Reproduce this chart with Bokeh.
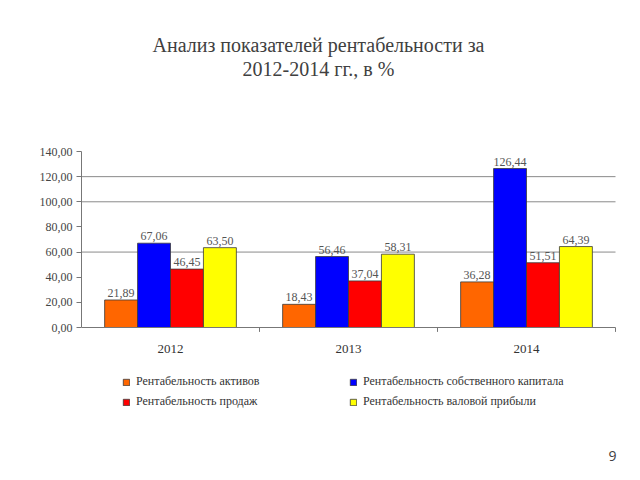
from bokeh.plotting import figure
from bokeh.models import (ColumnDataSource, Range1d, LabelSet, Label, Legend, LegendItem,
                          FixedTicker, CustomJSTickFormatter)
from bokeh.embed import file_html
from bokeh.resources import INLINE
from bokeh.core.properties import value

years = ["2012", "2013", "2014"]
assets = [21.89, 18.43, 36.28]
equity = [67.06, 56.46, 126.44]
sales = [46.45, 37.04, 51.51]
gross = [63.50, 58.31, 64.39]
series_names = ["Рентабельность активов", "Рентабельность собственного капитала",
                "Рентабельность продаж", "Рентабельность валовой прибыли"]
y_ticks = [0, 20, 40, 60, 80, 100, 120, 140]
grid_values = [60, 100, 120]
title_lines = ["Анализ показателей рентабельности за", "2012-2014 гг., в %"]
page_number = "9"

colors = ["#FF6600", "#0000FF", "#FF0000", "#FFFF00"]
offsets = [-0.2775, -0.0925, 0.0925, 0.2775]
serif = "Liberation Serif"

# layout geometry (pixels)
W, H = 624, 464
left = 81
px_per_unit_y = 176 / 140.0
y0_px_from_bottom = H - 327   # value 0 sits at y=327 from the top
top_px = 151                  # value 140 sits at y=151 from the top
cat_px = 178.0

def fmt(v):
    return f"{v:.2f}".replace(".", ",")

n = len(years)
centers = [i + 0.5 for i in range(n)]

src = ColumnDataSource(dict(year=years, xc=centers, zero=[0] * n))

y_start = -y0_px_from_bottom / px_per_unit_y
y_end = 140 + top_px / px_per_unit_y
x_end = n + (W - left - n * cat_px) / cat_px

p = figure(width=W, height=H, output_backend="svg", toolbar_location=None,
           x_range=Range1d(0, x_end), y_range=Range1d(y_start, y_end),
           x_axis_location=None,
           min_border_left=left, min_border_right=0, min_border_top=0, min_border_bottom=0)
p.outline_line_color = None
p.grid.visible = False

# horizontal grid lines (only where the reference shows them)
p.segment(x0=[0] * len(grid_values), x1=[n] * len(grid_values), y0=grid_values, y1=grid_values,
          line_color="#8a8a8a", line_width=1)

renderers = []
for vals, off, c in zip([assets, equity, sales, gross], offsets, colors):
    s = ColumnDataSource(dict(x=[x + off for x in centers], top=vals, t=[fmt(v) for v in vals]))
    r = p.vbar(x="x", top="top", width=0.185, source=s,
               fill_color=c, line_color="#3a3a3a", line_width=0.8)
    renderers.append(r)
    p.add_layout(LabelSet(x="x", y="top", text="t", source=s,
                          text_align="center", text_baseline="bottom", y_offset=3,
                          text_font=value(serif), text_font_size="12px", text_color="#555555"))

# category axis line, boundary ticks and labels
p.segment(x0=[0], x1=[n], y0=[0], y1=[0], line_color="#777777", line_width=1)
bounds = [i + 1 for i in range(n)]
p.segment(x0=bounds, x1=bounds, y0=[0] * n, y1=[-3.5] * n, line_color="#777777", line_width=1)
p.add_layout(LabelSet(x="xc", y="zero", text="year", source=src, text_align="center",
                      text_baseline="top", y_offset=-17, text_font=value(serif),
                      text_font_size="13px", text_color="#333333"))

p.yaxis.bounds = (0, 140)
p.yaxis.ticker = FixedTicker(ticks=y_ticks)
p.yaxis.formatter = CustomJSTickFormatter(code="return tick.toFixed(2).replace('.', ',');")
p.yaxis.major_tick_in = 0
p.yaxis.major_tick_out = 5
p.yaxis.minor_tick_line_color = None
p.yaxis.axis_line_color = "#777777"
p.yaxis.major_tick_line_color = "#777777"
p.yaxis.major_label_text_font = serif
p.yaxis.major_label_text_font_size = "12px"
p.yaxis.major_label_text_color = "#444444"
p.yaxis.major_label_standoff = 4

items = [LegendItem(label=nm, renderers=[r]) for nm, r in zip(series_names, renderers)]
legend = Legend(items=items, ncols=2, location=(41, H - 409), orientation="horizontal",
                glyph_width=8, glyph_height=8, label_standoff=6, label_width=208,
                spacing=5, label_height=12, padding=0, margin=0,
                label_text_font=serif, label_text_font_size="12px", label_text_color="#333333",
                border_line_color=None, background_fill_alpha=0)
p.add_layout(legend)

# title lines and page number (screen units, relative to the frame's bottom-left)
p.add_layout(Label(x=237, y=H - 44, x_units="screen", y_units="screen", text=title_lines[0],
                   text_align="center", text_baseline="middle", text_font=serif,
                   text_font_size="20px", text_color="#404040"))
p.add_layout(Label(x=237, y=H - 68, x_units="screen", y_units="screen", text=title_lines[1],
                   text_align="center", text_baseline="middle", text_font=serif,
                   text_font_size="20px", text_color="#404040"))
p.add_layout(Label(x=612 - left, y=H - 455, x_units="screen", y_units="screen", text=page_number,
                   text_align="center", text_baseline="middle", text_font="Open Sans",
                   text_font_size="14px", text_color="#404040"))

open("out.html", "w").write(file_html(p, INLINE))
